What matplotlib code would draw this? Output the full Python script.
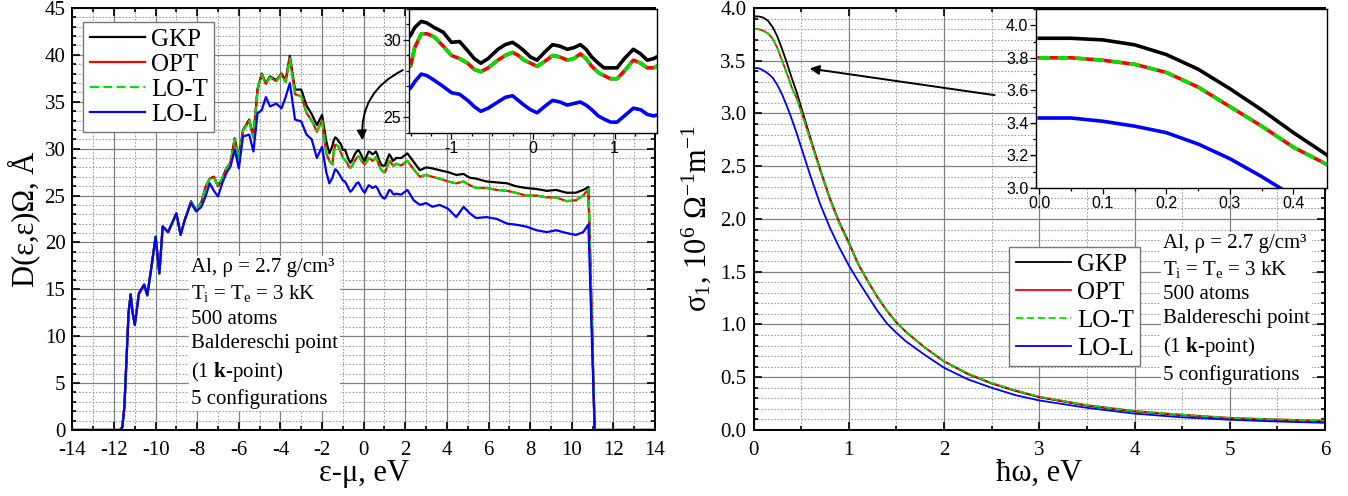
import matplotlib
matplotlib.use("Agg")
import matplotlib.pyplot as plt
from matplotlib.ticker import MultipleLocator, FormatStrFormatter

plt.rcParams["font.family"] = ["Liberation Serif", "DejaVu Serif"]
plt.rcParams["mathtext.fontset"] = "custom"
plt.rcParams["mathtext.rm"] = "Liberation Serif"
plt.rcParams["mathtext.it"] = "Liberation Serif:italic"
plt.rcParams["mathtext.bf"] = "Liberation Serif:bold"
plt.rcParams["axes.unicode_minus"] = False

# ---- left panel: density of states -----------------------------------------
dos_x = [-14.0, -11.7, -11.6, -11.5, -11.4, -11.3, -11.2, -11.1, -11.0, -10.8,
         -10.55, -10.4, -10.2, -10.0, -9.82, -9.66, -9.4, -9.0, -8.8, -8.6,
         -8.3, -8.05, -7.8, -7.6, -7.4, -7.2, -7.0, -6.8, -6.6, -6.4,
         -6.2, -6.0, -5.8, -5.5, -5.3, -5.1, -4.9, -4.7, -4.5, -4.2,
         -3.95, -3.75, -3.55, -3.3, -3.0, -2.75, -2.5, -2.25, -2.0, -1.8,
         -1.65, -1.5, -1.45, -1.37, -1.3, -1.21, -1.1, -1.0, -0.9, -0.8,
         -0.72, -0.64, -0.55, -0.43, -0.34, -0.25, -0.18, -0.11, -0.03, 0.05,
         0.14, 0.24, 0.33, 0.42, 0.5, 0.58, 0.65, 0.72, 0.8, 0.87,
         0.95, 1.03, 1.12, 1.23, 1.32, 1.4, 1.48, 1.55,
         1.8, 2.1, 2.4, 2.7, 3.0, 3.3, 3.65, 4.05,
         4.45, 4.8, 5.1, 5.4, 5.9, 6.4, 6.9, 7.3, 7.8, 8.3,
         8.8, 9.25, 9.75, 10.2, 10.55, 10.8, 11.1, 11.2, 14.0]

dos_gkp = [0, 0, 0.3, 2.5, 7.5, 12.5, 14.5, 12.5, 11.3, 14.6,
           15.5, 14.4, 17.4, 20.6, 16.7, 21.7, 21.1, 23.1, 20.8, 22.4,
           24.4, 23.4, 24.3, 25.9, 26.8, 27.0, 26.0, 26.8, 27.9, 28.5,
           31.1, 29.0, 32.0, 33.1, 31.3, 36.4, 38.0, 37.0, 37.7, 37.3,
           38.0, 37.3, 39.9, 36.3, 36.3, 34.6, 33.7, 32.5, 33.6, 30.8,
           29.5, 30.3, 30.8, 31.2, 31.1, 30.8, 30.5, 29.85, 29.9, 29.3,
           28.8, 28.5, 28.8, 29.4, 29.7, 29.85, 29.6, 29.3, 28.9, 28.7,
           29.2, 29.7, 29.6, 29.4, 29.5, 29.7, 29.4, 28.9, 28.5, 28.2,
           28.2, 28.2, 28.8, 29.4, 29.1, 28.7, 28.8, 29.0,
           29.0, 29.5, 28.6, 27.7, 28.0, 27.9, 27.7, 27.5,
           27.2, 27.3, 26.9, 26.8, 26.5, 26.4, 26.3, 26.0, 25.8, 25.7,
           25.5, 25.6, 25.3, 25.3, 25.6, 25.9, 0, 0, 0]

dos_opt = [0, 0, 0.3, 2.5, 7.5, 12.5, 14.5, 12.4, 11.2, 14.5,
           15.4, 14.3, 17.4, 20.6, 16.7, 21.7, 21.1, 23.1, 20.8, 22.4,
           24.3, 23.4, 24.2, 25.9, 26.8, 27.0, 26.0, 26.8, 27.9, 28.4,
           31.0, 28.9, 31.9, 33.0, 31.2, 36.3, 37.9, 36.9, 37.6, 37.2,
           37.9, 37.1, 39.7, 35.8, 35.6, 33.8, 33.0, 31.8, 33.0, 29.5,
           28.7, 28.3, 29.5, 30.4, 30.4, 30.2, 29.6, 29.0, 28.8, 28.5,
           28.1, 27.95, 28.2, 28.7, 29.0, 29.2, 29.0, 28.7, 28.5, 28.3,
           28.6, 29.0, 28.9, 28.7, 28.8, 29.1, 28.8, 28.3, 27.9, 27.7,
           27.5, 27.5, 28.0, 28.7, 28.5, 28.2, 28.2, 28.4,
           28.2, 28.7, 27.8, 27.0, 27.2, 27.0, 26.8, 26.5,
           26.3, 26.5, 26.1, 25.8, 25.8, 25.6, 25.5, 25.3, 25.0, 25.0,
           24.8, 24.8, 24.4, 24.5, 25.0, 25.7, 0, 0, 0]

dos_lot = [0, 0, 0.3, 2.5, 7.5, 12.5, 14.5, 12.4, 11.2, 14.5,
           15.4, 14.3, 17.4, 20.6, 16.7, 21.7, 21.1, 23.1, 20.8, 22.4,
           24.3, 23.4, 24.2, 25.9, 26.8, 27.0, 26.0, 26.8, 27.9, 28.4,
           31.0, 28.9, 31.9, 33.0, 31.2, 36.3, 37.9, 36.9, 37.6, 37.2,
           37.9, 37.1, 39.6, 35.8, 35.6, 33.9, 33.0, 31.9, 33.0, 29.6,
           28.7, 28.3, 29.5, 30.4, 30.4, 30.2, 29.6, 29.0, 28.8, 28.5,
           28.1, 27.95, 28.2, 28.7, 29.0, 29.2, 29.0, 28.7, 28.5, 28.3,
           28.6, 29.0, 28.9, 28.7, 28.8, 29.1, 28.8, 28.3, 27.9, 27.7,
           27.5, 27.5, 28.0, 28.7, 28.5, 28.2, 28.2, 28.4,
           28.2, 28.7, 27.8, 27.0, 27.2, 27.0, 26.8, 26.5,
           26.3, 26.5, 26.1, 25.8, 25.8, 25.6, 25.5, 25.3, 25.0, 25.0,
           24.8, 24.8, 24.4, 24.5, 25.0, 25.7, 0, 0, 0]

dos_lol = [0, 0, 0.3, 2.5, 7.5, 12.5, 14.4, 12.4, 11.2, 14.6,
           15.5, 14.4, 17.4, 20.6, 16.7, 21.7, 21.1, 23.1, 20.8, 22.4,
           24.2, 23.3, 23.8, 24.9, 26.3, 25.5, 24.9, 26.3, 27.4, 28.1,
           29.9, 27.9, 31.3, 31.5, 29.7, 33.8, 34.1, 35.5, 34.5, 34.8,
           34.3, 35.5, 37.0, 33.1, 32.9, 31.5, 31.0, 29.0, 30.2, 27.5,
           26.3, 26.9, 27.3, 27.8, 27.7, 27.4, 27.0, 26.6, 26.5, 26.1,
           25.7, 25.4, 25.6, 26.0, 26.3, 26.4, 26.1, 25.8, 25.5, 25.3,
           25.7, 26.1, 26.0, 25.8, 25.9, 26.0, 25.8, 25.5, 25.1, 24.9,
           24.7, 24.7, 25.1, 25.6, 25.5, 25.2, 25.1, 25.2,
           25.1, 25.6, 24.5, 24.0, 24.2, 23.8, 24.0, 23.6,
           22.7, 23.8, 23.1, 22.6, 22.7, 22.5, 22.0, 21.9, 21.7, 21.3,
           21.1, 21.3, 21.0, 20.8, 21.1, 21.9, 0, 0, 0]

# ---- right panel: optical conductivity -------------------------------------
sig_x = [0, 0.05, 0.1, 0.15, 0.2, 0.25, 0.3, 0.35, 0.4, 0.45,
         0.5, 0.6, 0.7, 0.8, 0.9, 1.0, 1.1, 1.2, 1.3, 1.4,
         1.5, 1.6, 1.8, 2.0, 2.25, 2.5, 2.75, 3.0, 3.5, 4.0,
         4.5, 5.0, 5.5, 6.0]

sig_gkp = [3.92, 3.92, 3.91, 3.88, 3.82, 3.73, 3.61, 3.48, 3.34, 3.21,
           3.06, 2.76, 2.47, 2.20, 1.97, 1.78, 1.57, 1.41, 1.26, 1.13,
           1.02, 0.93, 0.78, 0.65, 0.53, 0.44, 0.37, 0.31, 0.23, 0.175,
           0.14, 0.11, 0.095, 0.082]

sig_opt = [3.80, 3.80, 3.785, 3.76, 3.71, 3.62, 3.50, 3.38, 3.25, 3.15,
           3.02, 2.74, 2.46, 2.19, 1.96, 1.77, 1.57, 1.41, 1.26, 1.13,
           1.02, 0.93, 0.78, 0.65, 0.535, 0.445, 0.375, 0.315, 0.235, 0.18,
           0.145, 0.115, 0.10, 0.088]

sig_lot = [3.80, 3.80, 3.785, 3.76, 3.71, 3.62, 3.50, 3.38, 3.25, 3.15,
           3.02, 2.74, 2.46, 2.19, 1.96, 1.77, 1.57, 1.41, 1.26, 1.13,
           1.02, 0.93, 0.78, 0.65, 0.535, 0.445, 0.375, 0.315, 0.235, 0.18,
           0.145, 0.115, 0.10, 0.088]

sig_lol = [3.43, 3.43, 3.41, 3.38, 3.34, 3.27, 3.18, 3.07, 2.95, 2.82,
           2.68, 2.40, 2.14, 1.92, 1.73, 1.56, 1.41, 1.27, 1.13, 1.01,
           0.92, 0.84, 0.71, 0.59, 0.48, 0.40, 0.33, 0.28, 0.21, 0.155,
           0.12, 0.097, 0.08, 0.068]

labels = ["GKP", "OPT", "LO-T", "LO-L"]
colors = ["black", "#ff0000", "#00e000", "#0000ff"]

info = ("Al, ρ = 2.7 g/cm³\n"
        "T$_\\mathrm{i}$ = T$_\\mathrm{e}$ = 3 kK\n"
        "500 atoms\n"
        "Baldereschi point\n"
        "(1 $\\mathbf{k}$-point)\n"
        "5 configurations")


def draw_series(ax, x, ys, lw, dash):
    lines = []
    for y, lab, c in zip(ys, labels, colors):
        if lab == "LO-T":
            ln, = ax.plot(x, y, color=c, lw=lw, ls=(0, dash), label=lab,
                          solid_joinstyle="round", dash_joinstyle="round")
        else:
            ln, = ax.plot(x, y, color=c, lw=lw, label=lab,
                          solid_joinstyle="round")
        lines.append(ln)
    return lines


def style_main(ax):
    for s in ax.spines.values():
        s.set_linewidth(1.4)
    ax.grid(which="major", color="#808080", lw=0.9, ls="-")
    ax.grid(which="minor", color="#a0a0a0", lw=0.8, ls=(0, (1.5, 1.5)))
    ax.set_axisbelow(True)
    ax.tick_params(which="both", direction="in", top=True, right=True,
                   labelsize=15, width=1.2)
    ax.tick_params(axis="x", which="major", pad=8)
    ax.tick_params(axis="y", which="major", pad=5)
    ax.tick_params(which="major", length=6)
    ax.tick_params(which="minor", length=3)


def style_inset(ax):
    for s in ax.spines.values():
        s.set_linewidth(1.0)
    ax.tick_params(which="both", direction="out", labelsize=11.5, width=0.9)
    ax.tick_params(which="major", length=4, pad=1.5)
    ax.tick_params(which="minor", length=2)
    for t in ax.get_xticklabels() + ax.get_yticklabels():
        t.set_fontfamily("Liberation Sans")


def add_legend(ax, handles, anchor, loc, spacing):
    leg = ax.legend(handles=handles, loc=loc, bbox_to_anchor=anchor,
                    fontsize=18, handlelength=2.2, handletextpad=0.25,
                    labelspacing=spacing, borderpad=0.25, fancybox=False,
                    framealpha=1, edgecolor="#777777", borderaxespad=0)
    leg.get_frame().set_linewidth(1.0)
    return leg


fig = plt.figure(figsize=(13.48, 4.96), dpi=100)

# left
ax1 = fig.add_axes([0.0537, 0.1331, 0.4322, 0.8508])
h1 = draw_series(ax1, dos_x, [dos_gkp, dos_opt, dos_lot, dos_lol], 1.6, (4, 2))
ax1.set_xlim(-14, 14)
ax1.set_ylim(0, 45)
ax1.xaxis.set_major_locator(MultipleLocator(2))
ax1.xaxis.set_minor_locator(MultipleLocator(1))
ax1.yaxis.set_major_locator(MultipleLocator(5))
ax1.yaxis.set_minor_locator(MultipleLocator(1))
style_main(ax1)
ax1.set_xlabel("ε-μ, eV", fontsize=22, labelpad=-1)
ax1.set_ylabel("D(ε,ε)Ω, Å", fontsize=22, labelpad=3)
add_legend(ax1, h1, (0.019, 0.967), "upper left", 0.1)
ax1.text(-8.3, 18.3, info, fontsize=15, va="top", ha="left", linespacing=1.38,
         bbox=dict(facecolor="white", edgecolor="none", pad=1.5))
ax1.annotate("", xy=(-0.05, 30.6), xytext=(2.0, 38.5),
             arrowprops=dict(arrowstyle="-|>", color="black", lw=1.4,
                             connectionstyle="arc3,rad=0.35",
                             mutation_scale=14))

ins1 = fig.add_axes([0.3034, 0.7319, 0.1840, 0.2500])
draw_series(ins1, dos_x, [dos_gkp, dos_opt, dos_lot, dos_lol], 2.6, (3, 2))
ins1.set_xlim(-1.52, 1.52)
ins1.set_ylim(24, 32)
ins1.xaxis.set_major_locator(MultipleLocator(1))
ins1.xaxis.set_minor_locator(MultipleLocator(0.25))
ins1.yaxis.set_major_locator(MultipleLocator(5))
ins1.yaxis.set_minor_locator(MultipleLocator(1))
style_inset(ins1)

# right
ax2 = fig.add_axes([0.5590, 0.1331, 0.4240, 0.8508])
h2 = draw_series(ax2, sig_x, [sig_gkp, sig_opt, sig_lot, sig_lol], 1.3, (4, 2))
ax2.set_xlim(0, 6)
ax2.set_ylim(0, 4)
ax2.xaxis.set_major_locator(MultipleLocator(1))
ax2.xaxis.set_minor_locator(MultipleLocator(0.5))
ax2.yaxis.set_major_locator(MultipleLocator(0.5))
ax2.yaxis.set_minor_locator(MultipleLocator(0.1))
ax2.yaxis.set_major_formatter(FormatStrFormatter("%.1f"))
style_main(ax2)
ax2.set_xlabel("ħω, eV", fontsize=22, labelpad=-1)
ax2.set_ylabel("σ$_1$, 10$^6$ Ω$^{-1}$m$^{-1}$", fontsize=22, labelpad=5)
add_legend(ax2, h2, (0.676, 0.434), "upper right", 0.22)
ax2.text(4.3, 1.86, info, fontsize=15, va="top", ha="left", linespacing=1.38,
         bbox=dict(facecolor="white", edgecolor="none", pad=1.5))
ax2.annotate("", xy=(0.56, 3.43), xytext=(2.56, 3.17),
             arrowprops=dict(arrowstyle="-|>", color="black", lw=1.4,
                             mutation_scale=14))

ins2 = fig.add_axes([0.7686, 0.6210, 0.2159, 0.3609])
draw_series(ins2, sig_x, [sig_gkp, sig_opt, sig_lot, sig_lol], 2.6, (3, 2))
ins2.set_xlim(-0.005, 0.453)
ins2.set_ylim(3.0, 4.1)
ins2.xaxis.set_major_locator(MultipleLocator(0.1))
ins2.xaxis.set_minor_locator(MultipleLocator(0.05))
ins2.yaxis.set_major_locator(MultipleLocator(0.2))
ins2.yaxis.set_minor_locator(MultipleLocator(0.1))
ins2.xaxis.set_major_formatter(FormatStrFormatter("%.1f"))
ins2.yaxis.set_major_formatter(FormatStrFormatter("%.1f"))
style_inset(ins2)

fig.savefig("out.png", dpi=100)
